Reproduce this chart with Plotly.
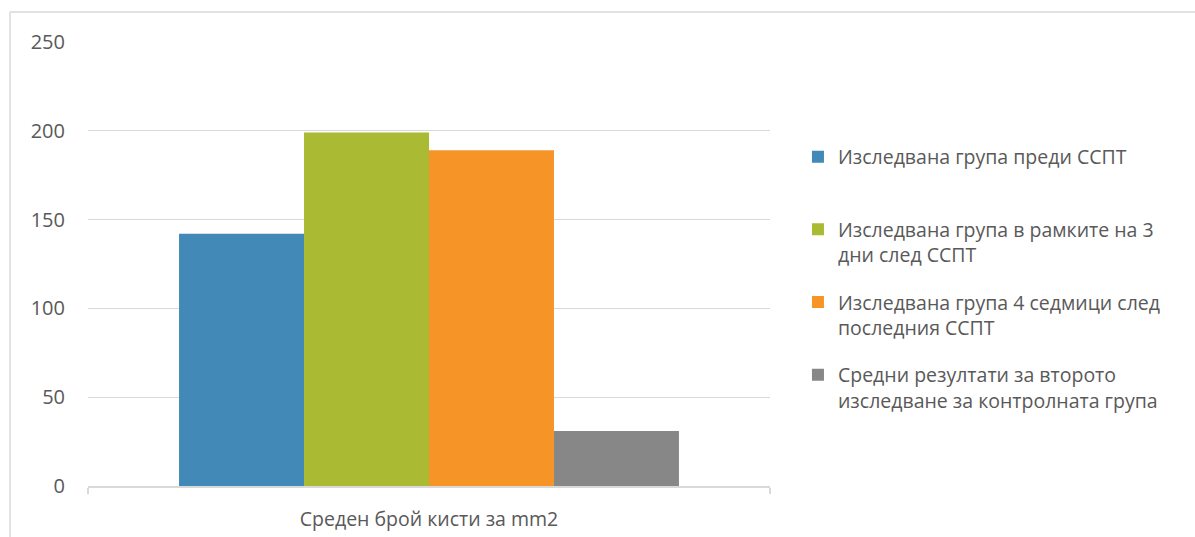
import plotly.graph_objects as go

category = ["Среден брой кисти за mm2"]
series_names = [
    "Изследвана група преди ССПТ<br> ",
    "Изследвана група в рамките на 3<br>дни след ССПТ",
    "Изследвана група 4 седмици след<br>последния ССПТ",
    "Средни резултати за второто<br>изследване за контролната група",
]
series_values = [142, 199, 189, 31]
series_colors = ["#4289b7", "#aabb33", "#f79428", "#878787"]
y_ticks = [0, 50, 100, 150, 200, 250]

FONT = "Open Sans"
TXT = "#595959"

fig = go.Figure()
for i, (name, val, col) in enumerate(zip(series_names, series_values, series_colors)):
    fig.add_trace(go.Bar(
        x=category, y=[val], name=name, legendgroup=f"g{i}",
        marker=dict(color=col, line=dict(width=0)),
    ))

fig.update_layout(
    width=1195, height=537,
    margin=dict(l=88, r=425, t=42, b=51),
    paper_bgcolor="white", plot_bgcolor="white",
    barmode="group", bargap=0.267, bargroupgap=0,
    font=dict(family=FONT, color=TXT, size=19),
    showlegend=True,
    legend=dict(
        x=1.041, xanchor="left", y=0.785, yanchor="top",
        font=dict(family=FONT, size=19.5, color=TXT),
        valign="top", tracegroupgap=19, itemwidth=30,
        bgcolor="rgba(0,0,0,0)",
    ),
    xaxis=dict(
        showline=True, linecolor="#d9d9d9", linewidth=1.5,
        ticks="outside", tickson="boundaries", ticklen=6, tickcolor="#d9d9d9",
        tickwidth=1.5, tickfont=dict(size=19.5, color=TXT), ticklabelstandoff=15,
        showgrid=False, automargin=False,
    ),
    yaxis=dict(
        range=[0, 250], tickvals=y_ticks, showgrid=True, gridcolor="#d9d9d9",
        gridwidth=1, zeroline=False, showline=False, ticks="",
        tickfont=dict(size=20, color=TXT), ticklabelstandoff=22, automargin=False,
    ),
)

# chart area border (top and left edges)
fig.add_shape(type="line", xref="paper", yref="paper",
              x0=(10 - 88) / 682, x1=(1195 - 88) / 682, y0=(486 - 12) / 444, y1=(486 - 12) / 444,
              line=dict(color="#d9d9d9", width=1.5), layer="below")
fig.add_shape(type="line", xref="paper", yref="paper",
              x0=(10 - 88) / 682, x1=(10 - 88) / 682, y0=(486 - 12) / 444, y1=(486 - 540) / 444,
              line=dict(color="#d9d9d9", width=1.5), layer="below")

fig.write_html("out.html")
